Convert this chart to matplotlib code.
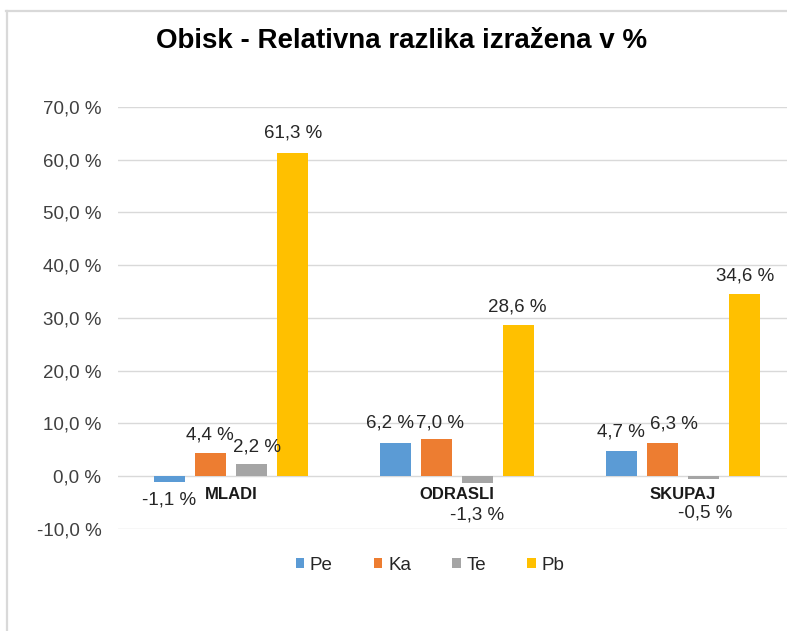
import matplotlib
matplotlib.use("Agg")
import matplotlib.pyplot as plt
from matplotlib.patches import Patch
from matplotlib.lines import Line2D
import numpy as np

plt.rcParams['font.family'] = ['Liberation Sans', 'DejaVu Sans']

title = "Obisk - Relativna razlika izražena v %"
categories = ["MLADI", "ODRASLI", "SKUPAJ"]
series_names = ["Pe", "Ka", "Te", "Pb"]
pe = [-1.1, 6.2, 4.7]
ka = [4.4, 7.0, 6.3]
te = [2.2, -1.3, -0.5]
pb = [61.3, 28.6, 34.6]
yticks = [-10, 0, 10, 20, 30, 40, 50, 60, 70]

series = [pe, ka, te, pb]
colors = ["#5B9BD5", "#ED7D31", "#A5A5A5", "#FFC000"]
# label offsets in pixels (dx, distance from bar end)
label_offsets = [
    [(0, 18), (-6, 20), (-1, 19)],
    [(-1, 18), (3.5, 16), (11, 19)],
    [(6, 17), (0, 32), (2, 34)],
    [(0.5, 20), (-1, 18), (0.5, 18)],
]

W, H = 787, 631
fig = plt.figure(figsize=(W / 100, H / 100), dpi=100)
fig.patch.set_facecolor("white")

ax_left, ax_right = 118, 796
ax_top, ax_bottom = 107, 528.7
ax = fig.add_axes([ax_left / W, 1 - ax_bottom / H, (ax_right - ax_left) / W, (ax_bottom - ax_top) / H])

x = np.arange(len(categories))
bw = 0.137
pitch = 0.1814
for i, (vals, c) in enumerate(zip(series, colors)):
    xs = x + (i - 1.5) * pitch
    ax.bar(xs, vals, width=bw, color=c, zorder=3)
    for j, (xx, v) in enumerate(zip(xs, vals)):
        dx, dy = label_offsets[i][j]
        sign = 1 if v >= 0 else -1
        ax.annotate(f"{v:.1f} %".replace(".", ","), xy=(xx, v), xytext=(dx, sign * dy),
                    textcoords="offset pixels", ha="center", va="center",
                    fontsize=13.5, color="#262626", zorder=4)

for j, cat in enumerate(categories):
    ax.annotate(cat, xy=(x[j], 0), xytext=(0, -19), textcoords="offset pixels",
                ha="center", va="center", fontsize=12, fontweight="bold", color="#1a1a1a", zorder=4)

ax.set_xlim(-0.5, 2.5)
ax.set_ylim(-10, 70)
ax.set_yticks(yticks)
ax.set_yticklabels([f"{t:.1f} %".replace(".", ",") for t in yticks])
ax.set_xticks([])
ax.tick_params(axis="y", length=0, pad=12, labelsize=13.5, labelcolor="#404040")
ax.grid(axis="y", color="#d9d9d9", linewidth=1.0, zorder=0)
for s in ax.spines.values():
    s.set_visible(False)
ax.set_facecolor("none")

fig.text(402 / W, 1 - 41 / H, title, ha="center", va="center", fontsize=20, fontweight="bold", color="black")

handles = [Patch(facecolor=c, edgecolor="none") for c in colors]
fig.legend(handles, series_names, loc="center", bbox_to_anchor=(430 / W, 1 - 565 / H), ncol=4,
           frameon=False, fontsize=13.5, handlelength=0.45, handleheight=0.45,
           handletextpad=0.3, columnspacing=2.2, labelcolor="#262626")

# frame lines of the chart area (cropped screenshot border)
fig.add_artist(Line2D([5.5 / W, 1], [1 - 10.5 / H, 1 - 10.5 / H], color="#d9d9d9", linewidth=1.6,
                      transform=fig.transFigure))
fig.add_artist(Line2D([6.5 / W, 6.5 / W], [0, 1 - 10.5 / H], color="#d9d9d9", linewidth=1.6,
                      transform=fig.transFigure))

fig.savefig("out.png", dpi=100, facecolor="white")
